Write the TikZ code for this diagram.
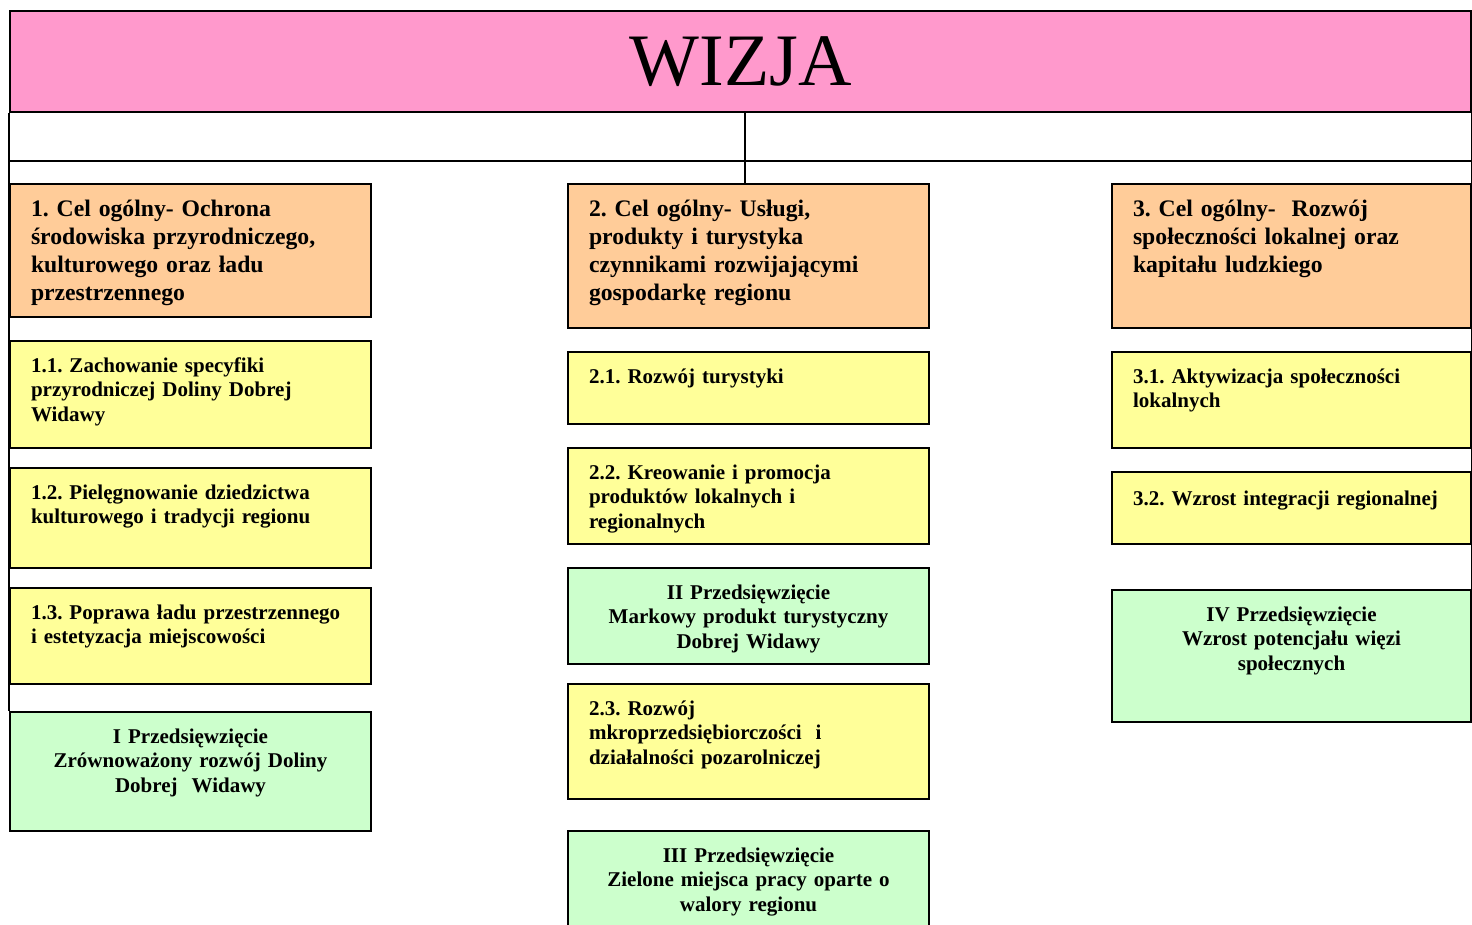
\documentclass[tikz,border=0pt]{standalone}
\usepackage{fontspec}
\setmainfont{Liberation Serif}
\usetikzlibrary{positioning}
\frenchspacing

\definecolor{wizjafill}{HTML}{FF99CC}
\definecolor{celfill}{HTML}{FFCC99}
\definecolor{subfill}{HTML}{FFFF99}
\definecolor{przedfill}{HTML}{CCFFCC}

\begin{document}
\begin{tikzpicture}[x=1pt,y=-1pt,line width=2pt,
                    box/.style={draw=black,anchor=north west,inner xsep=21pt,
                      inner ysep=0pt,text width=319pt,text height=31pt,align=left,
                      font=\bfseries\fontsize{21}{24.5}\selectfont}]
  \tikzstyle{cel}=[box,fill=celfill,text height=33pt,
                   font=\bfseries\fontsize{23.7}{28}\selectfont]
  \tikzstyle{sub}=[box,fill=subfill]
  \tikzstyle{przed}=[box,fill=przedfill,align=center]
  \useasboundingbox (0,0) rectangle (1472,925);

  \node[draw=black,fill=wizjafill,anchor=north west,minimum width=1461pt,
        minimum height=101pt,inner sep=0pt,font=\fontsize{74}{80}\selectfont]
        (wizja) at (9,10) {WIZJA};

  % pierwszy cel
  \node[cel,text depth=100pt] (c1) at (9,183)
    {1. Cel ogólny- Ochrona\\środowiska przyrodniczego,\\kulturowego oraz ładu\\przestrzennego};
  \node[sub,text depth=76pt] (c11) at (9,340)
    {1.1. Zachowanie specyfiki\\przyrodniczej Doliny Dobrej\\Widawy};
  \node[sub,text depth=69pt] (c12) at (9,467)
    {1.2. Pielęgnowanie dziedzictwa\\kulturowego i tradycji regionu};
  \node[sub,text depth=65pt] (c13) at (9,587)
    {1.3. Poprawa ładu przestrzennego\\i estetyzacja miejscowości};
  \node[przed,text depth=88pt] (p1) at (9,711)
    {I Przedsięwzięcie\\Zrównoważony rozwój Doliny\\Dobrej\ \ Widawy};

  % drugi cel
  \node[cel,text depth=111pt] (c2) at (567,183)
    {2. Cel ogólny- Usługi,\\produkty i turystyka\\czynnikami rozwijającymi\\gospodarkę regionu};
  \node[sub,text depth=41pt] (c21) at (567,351) {2.1. Rozwój turystyki};
  \node[sub,text depth=65pt] (c22) at (567,447)
    {2.2. Kreowanie i promocja\\produktów lokalnych i\\regionalnych};
  \node[przed,text depth=65pt] (p2) at (567,567)
    {II Przedsięwzięcie\\Markowy produkt turystyczny\\Dobrej Widawy};
  \node[sub,text depth=84pt] (c23) at (567,683)
    {2.3. Rozwój\\mkroprzedsiębiorczości\ \ i\\działalności pozarolniczej};
  \node[przed,text depth=79pt] (p3) at (567,830)
    {III Przedsięwzięcie\\Zielone miejsca pracy oparte o\\walory regionu};

  % trzeci cel
  \node[cel,text width=317pt,text depth=111pt] (c3) at (1111,183)
    {3. Cel ogólny-\ \ Rozwój\\społeczności lokalnej oraz\\kapitału ludzkiego};
  \node[sub,text width=317pt,text depth=65pt] (c31) at (1111,351)
    {3.1. Aktywizacja społeczności\\lokalnych};
  \node[sub,text width=317pt,text height=33pt,text depth=39pt] (c32) at (1111,471)
    {3.2. Wzrost integracji regionalnej};
  \node[przed,text width=317pt,text depth=101pt] (p4) at (1111,589)
    {IV Przedsięwzięcie\\Wzrost potencjału więzi\\społecznych};

  \coordinate (trunk) at ([xshift=4pt]wizja.south);
  \draw (trunk) -- (trunk |- c2.north);
  \draw ([yshift=-48pt]wizja.south west) -- ([yshift=-48pt]wizja.south east);
  \draw (wizja.south west) -- (p1.north west);
  \draw (wizja.south east) -- (p4.north east);
\end{tikzpicture}
\end{document}
